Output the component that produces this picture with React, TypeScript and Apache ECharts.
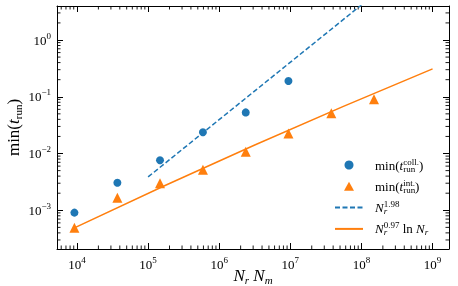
import { useEffect, useRef } from 'react';
import * as echarts from 'echarts';

// N_r N_m values of the measurements
const sizes = [9.2e3, 3.7e4, 1.47e5, 5.9e5, 2.36e6, 9.4e6, 3.77e7, 1.5e8];
// min(t_run) collocation (first 6 sizes)
const collTimes = [9.1e-4, 3.06e-3, 7.6e-3, 0.0237, 0.053, 0.189];
// min(t_run) integration
const intTimes = [4.9e-4, 1.67e-3, 3.0e-3, 5.2e-3, 0.0108, 0.0225, 0.051, 0.09];
// fit lines
const fitCollX = [1e5, 1e8];
const fitCollY = [3.87e-3, 4.15];
const fitIntX = [9.2e3, 3.16e6, 1e9];
const fitIntY = [4.9e-4, 0.0141, 0.31];

// axis ranges (log10)
const xMinExp = 3.719;
const xMaxExp = 9.231;
const yMinExp = -3.682;
const yMaxExp = 0.599;
// minor tick construction
const minorMult = [2, 3, 4, 5, 6, 7, 8, 9];
const xDecades = [3, 4, 5, 6, 7, 8, 9];
const yDecades = [-4, -3, -2, -1, 0];

const FONT = 'Liberation Serif';
const BLUE = '#1f77b4';
const ORANGE = '#ff7f0e';

export default function App() {
  const ref = useRef<HTMLDivElement>(null);
  useEffect(() => {
    const chart = echarts.init(ref.current!, null, { renderer: 'svg' });
    const xMin = Math.pow(10, xMinExp);
    const xMax = Math.pow(10, xMaxExp);
    const yMin = Math.pow(10, yMinExp);
    const yMax = Math.pow(10, yMaxExp);

    const xMinor: number[] = [];
    xDecades.forEach((d) => minorMult.forEach((m) => {
      const v = m * Math.pow(10, d);
      if (v > xMin && v < xMax) xMinor.push(v);
    }));
    const yMinor: number[] = [];
    yDecades.forEach((d) => minorMult.forEach((m) => {
      const v = m * Math.pow(10, d);
      if (v > yMin && v < yMax) yMinor.push(v);
    }));

    const tickFmt = (v: number) => {
      const e = Math.log10(v);
      const r = Math.round(e);
      if (Math.abs(e - r) > 1e-6) return '';
      const s = r < 0 ? '\u2212' + String(-r) : String(r);
      return `{b|10}{s|${s}}`;
    };
    const tickRich = {
      b: { fontFamily: FONT, fontSize: 13, lineHeight: 18, color: '#000' },
      s: { fontFamily: FONT, fontSize: 9, lineHeight: 9, verticalAlign: 'top', color: '#000' },
    };

    const axisCommon = (pos: string) => ({
      type: 'log',
      logBase: 10,
      position: pos,
      axisLine: { show: true, lineStyle: { color: '#000', width: 1 } },
      axisTick: { show: true, inside: true, length: 6, lineStyle: { color: '#000', width: 1 } },
      splitLine: { show: false },
      minorTick: { show: false },
    });

    const tickLine = (x1: number, y1: number, x2: number, y2: number) => ({
      type: 'line',
      shape: { x1, y1, x2, y2 },
      style: { stroke: '#000', lineWidth: 0.9 },
    });

    const legendLabels: Record<string, string> = {
      coll: '{n|min(}{i|t}{subz|run}{sup|coll.}{n|)}',
      int: '{n|min(}{i|t}{subz|run}{sup|int.}{n|)}',
      fitColl: '{i|N}{isubz|r}{sup|1.98}',
      fitInt: '{i|N}{isubz|r}{sup|0.97}{n| ln }{i|N}{isub|r}',
    };

    chart.setOption({
      animation: false,
      grid: { left: 57, top: 6, width: 392, height: 243, containLabel: false, outerBoundsMode: 'none' },
      xAxis: [
        {
          ...axisCommon('bottom'),
          min: xMin,
          max: xMax,
          axisLabel: {
            show: true, formatter: tickFmt, margin: 6, rich: tickRich,
            showMinLabel: false, showMaxLabel: false,
          },
          name: '{i|N}{s|r}{n| }{i|N}{s|m}',
          nameLocation: 'middle',
          nameGap: 16,
          nameMoveOverlap: false,
          nameTextStyle: {
            rich: {
              i: { fontFamily: FONT, fontStyle: 'italic', fontSize: 17, lineHeight: 20, color: '#000' },
              n: { fontFamily: FONT, fontSize: 17, lineHeight: 20, color: '#000' },
              s: { fontFamily: FONT, fontStyle: 'italic', fontSize: 11, lineHeight: 11, verticalAlign: 'bottom', color: '#000' },
            },
          },
        },
        {
          ...axisCommon('top'),
          min: xMin,
          max: xMax,
          axisLabel: { show: false },
        },
      ],
      yAxis: [
        {
          ...axisCommon('left'),
          min: yMin,
          max: yMax,
          axisLabel: {
            show: true, formatter: tickFmt, margin: 6, rich: tickRich,
            showMinLabel: false, showMaxLabel: false,
          },
          name: '{n|min(}{i|t}{s|run}{n|)}',
          nameLocation: 'middle',
          nameGap: 34,
          nameRotate: 90,
          nameMoveOverlap: false,
          nameTextStyle: {
            rich: {
              i: { fontFamily: FONT, fontStyle: 'italic', fontSize: 17, lineHeight: 20, color: '#000' },
              n: { fontFamily: FONT, fontSize: 17, lineHeight: 20, color: '#000' },
              s: { fontFamily: FONT, fontSize: 11, lineHeight: 11, verticalAlign: 'bottom', color: '#000' },
            },
          },
        },
        {
          ...axisCommon('right'),
          min: yMin,
          max: yMax,
          axisLabel: { show: false },
        },
      ],
      legend: {
        data: [
          { name: 'coll', icon: 'circle' },
          { name: 'int', icon: 'path://M5,0L10,9L0,9Z' },
          { name: 'fitColl', itemStyle: { opacity: 0 } },
          { name: 'fitInt', itemStyle: { opacity: 0 } },
        ],
        orient: 'vertical',
        left: 334,
        top: 157,
        padding: 0,
        itemWidth: 28,
        itemHeight: 9,
        itemGap: 5.3,
        symbolKeepAspect: true,
        formatter: (name: string) => legendLabels[name],
        textStyle: {
          color: '#000',
          fontFamily: FONT,
          fontSize: 13,
          padding: [0, 0, 0, 7],
          rich: {
            n: { fontFamily: FONT, fontSize: 13, lineHeight: 16, color: '#000' },
            i: { fontFamily: FONT, fontStyle: 'italic', fontSize: 13, lineHeight: 16, color: '#000' },
            sup: { fontFamily: FONT, fontSize: 9, lineHeight: 8, verticalAlign: 'top', color: '#000' },
            subz: { fontFamily: FONT, fontSize: 9, lineHeight: 8, verticalAlign: 'bottom', width: 0.01, color: '#000' },
            isubz: { fontFamily: FONT, fontStyle: 'italic', fontSize: 9, lineHeight: 8, verticalAlign: 'bottom', width: 0.01, color: '#000' },
            isub: { fontFamily: FONT, fontStyle: 'italic', fontSize: 9, lineHeight: 8, verticalAlign: 'bottom', color: '#000' },
          },
        },
      },
      series: [
        {
          name: 'coll',
          type: 'scatter',
          symbol: 'circle',
          symbolSize: 8,
          itemStyle: { color: BLUE, opacity: 1 },
          data: collTimes.map((t, i) => [sizes[i], t]),
          z: 5,
        },
        {
          name: 'int',
          type: 'scatter',
          symbol: 'triangle',
          symbolSize: 10,
          itemStyle: { color: ORANGE, opacity: 1 },
          data: intTimes.map((t, i) => [sizes[i], t]),
          z: 5,
        },
        {
          name: 'fitColl',
          type: 'line',
          symbol: 'none',
          clip: true,
          lineStyle: { color: BLUE, width: 1.5, type: [5, 2.5] },
          itemStyle: { color: BLUE },
          data: fitCollX.map((x, i) => [x, fitCollY[i]]),
          z: 3,
        },
        {
          name: 'fitInt',
          type: 'line',
          symbol: 'none',
          clip: true,
          smooth: true,
          lineStyle: { color: ORANGE, width: 1.5 },
          itemStyle: { color: ORANGE },
          data: fitIntX.map((x, i) => [x, fitIntY[i]]),
          z: 3,
        },
        {
          name: 'xminor',
          type: 'custom',
          silent: true,
          clip: false,
          data: xMinor.map((v) => [v, yMin]),
          renderItem: (params: any, api: any) => {
            const cs = params.coordSys;
            const px = api.coord([api.value(0), yMin])[0];
            const b = cs.y + cs.height;
            return {
              type: 'group',
              children: [tickLine(px, b, px, b - 3.5), tickLine(px, cs.y, px, cs.y + 3.5)],
            };
          },
          z: 1,
        },
        {
          name: 'yminor',
          type: 'custom',
          silent: true,
          clip: false,
          data: yMinor.map((v) => [xMin, v]),
          renderItem: (params: any, api: any) => {
            const cs = params.coordSys;
            const py = api.coord([xMin, api.value(1)])[1];
            const r = cs.x + cs.width;
            return {
              type: 'group',
              children: [tickLine(cs.x, py, cs.x + 3.5, py), tickLine(r, py, r - 3.5, py)],
            };
          },
          z: 1,
        },
      ],
    });
    return () => chart.dispose();
  }, []);
  return <div ref={ref} style={{ position: 'fixed', left: 0, top: 0, width: 458, height: 286 }} />;
}
